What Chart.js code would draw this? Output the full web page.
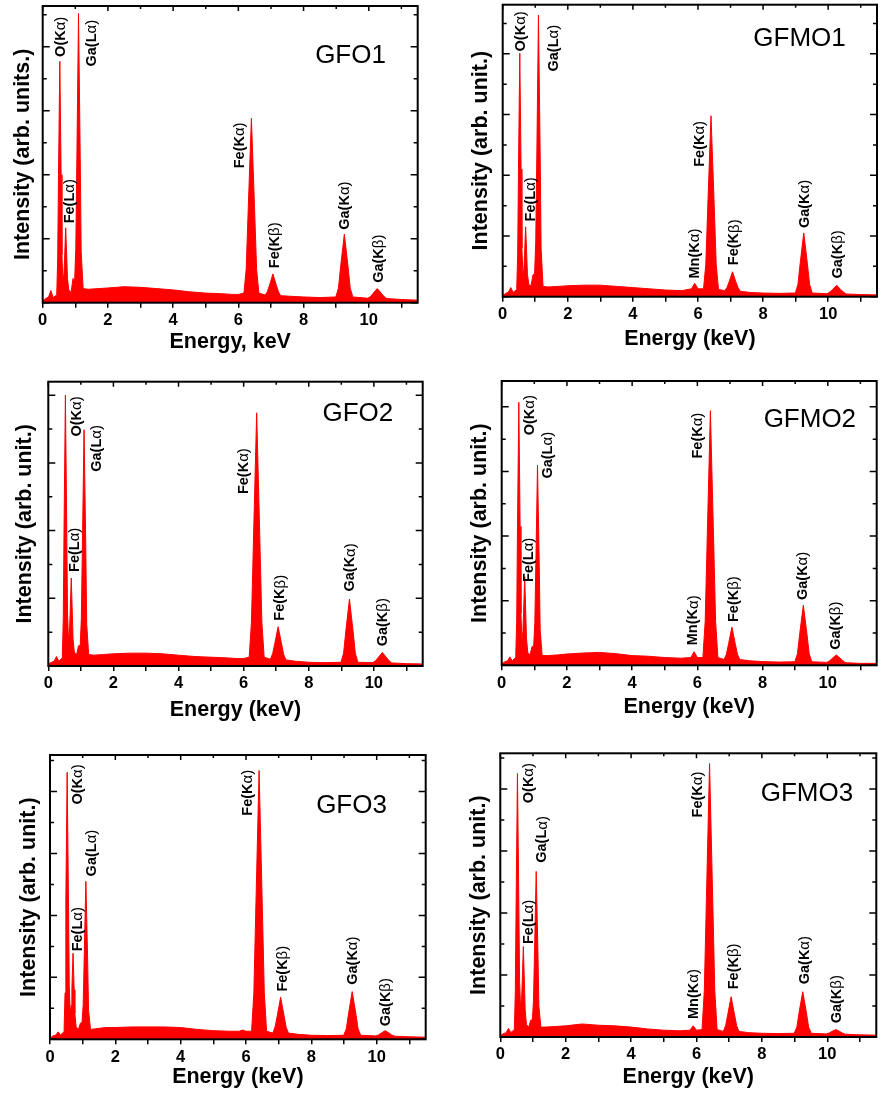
<!DOCTYPE html>
<html>
<head>
<meta charset="utf-8">
<script src="https://cdn.jsdelivr.net/npm/chart.js@4.4.1/dist/chart.umd.min.js"></script>
<style>
  html, body { margin: 0; padding: 0; background: #fff; }
  body { width: 882px; height: 1099px; position: relative; overflow: hidden; }
  canvas { position: absolute; }
</style>
</head>
<body>
<canvas id="c1" width="441" height="365" style="left:0;top:0"></canvas>
<canvas id="c2" width="441" height="365" style="left:441px;top:0"></canvas>
<canvas id="c3" width="441" height="370" style="left:0;top:365px"></canvas>
<canvas id="c4" width="441" height="370" style="left:441px;top:365px"></canvas>
<canvas id="c5" width="441" height="364" style="left:0;top:735px"></canvas>
<canvas id="c6" width="441" height="364" style="left:441px;top:735px"></canvas>
<script>
// energy grid (keV) shared by all six spectra
const energyKeV = [0, 0.08, 0.18, 0.25, 0.32, 0.43, 0.46, 0.485, 0.525, 0.565, 0.59, 0.62, 0.65, 0.67, 0.705, 0.74, 0.76, 0.8, 0.87, 0.93, 0.98, 1.015, 1.05, 1.098, 1.15, 1.18, 1.24, 1.4, 1.7, 2.0, 2.5, 3.0, 3.5, 4.0, 4.5, 5.0, 5.5, 5.8, 5.9, 6.0, 6.17, 6.24, 6.305, 6.4, 6.495, 6.56, 6.63, 6.82, 6.89, 6.96, 7.06, 7.16, 7.23, 7.3, 7.6, 8.0, 8.5, 8.99, 9.07, 9.14, 9.25, 9.36, 9.43, 9.51, 9.97, 10.06, 10.14, 10.26, 10.38, 10.46, 10.55, 11.0, 11.5];

// intensities (arb. units)
const gfo1 = [0.03, 0.06, 0.09, 0.19, 0.08, 0.12, 0.7, 2.0, 3.77, 2.0, 0.75, 0.33, 0.45, 0.68, 1.17, 0.68, 0.38, 0.2, 0.16, 0.38, 0.35, 0.85, 2.35, 4.52, 2.3, 0.8, 0.22, 0.21, 0.22, 0.23, 0.25, 0.24, 0.22, 0.2, 0.17, 0.15, 0.14, 0.13, 0.13, 0.13, 0.15, 0.52, 1.5, 2.88, 1.5, 0.52, 0.15, 0.12, 0.17, 0.28, 0.45, 0.28, 0.17, 0.11, 0.1, 0.09, 0.08, 0.09, 0.23, 0.58, 1.07, 0.58, 0.23, 0.09, 0.07, 0.1, 0.15, 0.22, 0.15, 0.1, 0.065, 0.05, 0.04];
const gfmo1 = [0.02, 0.05, 0.08, 0.15, 0.07, 0.12, 0.7, 2.1, 4.01, 2.1, 0.8, 0.38, 0.45, 0.68, 1.15, 0.66, 0.38, 0.2, 0.18, 0.36, 0.38, 0.9, 2.4, 4.64, 2.4, 0.8, 0.17, 0.16, 0.17, 0.18, 0.19, 0.19, 0.17, 0.15, 0.13, 0.11, 0.1, 0.13, 0.22, 0.13, 0.13, 0.53, 1.55, 2.98, 1.55, 0.53, 0.12, 0.1, 0.15, 0.25, 0.41, 0.25, 0.15, 0.09, 0.07, 0.06, 0.055, 0.06, 0.2, 0.55, 1.05, 0.55, 0.2, 0.06, 0.05, 0.08, 0.12, 0.19, 0.12, 0.08, 0.045, 0.035, 0.03];
const gfo2 = [0.03, 0.05, 0.07, 0.14, 0.07, 0.12, 0.7, 2.1, 4.0, 2.1, 0.8, 0.38, 0.5, 0.76, 1.3, 0.74, 0.4, 0.2, 0.17, 0.3, 0.3, 0.7, 1.85, 3.49, 1.8, 0.62, 0.17, 0.16, 0.17, 0.18, 0.19, 0.19, 0.18, 0.16, 0.14, 0.13, 0.12, 0.11, 0.11, 0.11, 0.13, 0.65, 1.92, 3.74, 1.92, 0.65, 0.13, 0.1, 0.18, 0.34, 0.58, 0.34, 0.17, 0.09, 0.07, 0.055, 0.05, 0.055, 0.19, 0.52, 0.99, 0.52, 0.19, 0.055, 0.05, 0.08, 0.13, 0.2, 0.13, 0.08, 0.045, 0.035, 0.03];
const gfmo2 = [0.02, 0.05, 0.07, 0.13, 0.07, 0.12, 0.7, 2.15, 4.07, 2.15, 0.8, 0.39, 0.52, 0.8, 1.37, 0.78, 0.42, 0.2, 0.16, 0.29, 0.3, 0.65, 1.65, 3.1, 1.6, 0.55, 0.15, 0.15, 0.16, 0.175, 0.19, 0.2, 0.18, 0.15, 0.14, 0.12, 0.11, 0.12, 0.21, 0.12, 0.12, 0.68, 2.02, 3.94, 2.02, 0.68, 0.12, 0.09, 0.17, 0.34, 0.59, 0.34, 0.17, 0.09, 0.07, 0.057, 0.05, 0.055, 0.18, 0.49, 0.93, 0.49, 0.18, 0.055, 0.045, 0.07, 0.11, 0.16, 0.11, 0.07, 0.04, 0.03, 0.03];
const gfo3 = [0.02, 0.05, 0.07, 0.12, 0.07, 0.12, 0.75, 2.25, 4.31, 2.25, 0.85, 0.42, 0.55, 0.82, 1.39, 0.8, 0.42, 0.2, 0.16, 0.26, 0.27, 0.55, 1.38, 2.55, 1.35, 0.47, 0.16, 0.17, 0.19, 0.19, 0.2, 0.2, 0.2, 0.19, 0.16, 0.14, 0.13, 0.13, 0.15, 0.13, 0.13, 0.75, 2.22, 4.34, 2.22, 0.75, 0.13, 0.1, 0.2, 0.39, 0.68, 0.39, 0.19, 0.1, 0.08, 0.065, 0.06, 0.065, 0.17, 0.42, 0.77, 0.42, 0.17, 0.065, 0.055, 0.07, 0.1, 0.14, 0.1, 0.07, 0.05, 0.04, 0.035];
const gfmo3 = [0.02, 0.05, 0.07, 0.14, 0.07, 0.12, 0.75, 2.25, 4.25, 2.25, 0.9, 0.49, 0.6, 0.88, 1.46, 0.84, 0.44, 0.2, 0.16, 0.27, 0.28, 0.58, 1.45, 2.67, 1.4, 0.5, 0.16, 0.16, 0.17, 0.18, 0.21, 0.19, 0.18, 0.16, 0.13, 0.11, 0.1, 0.11, 0.18, 0.11, 0.12, 0.75, 2.25, 4.41, 2.25, 0.75, 0.12, 0.09, 0.18, 0.37, 0.65, 0.37, 0.18, 0.09, 0.07, 0.06, 0.055, 0.06, 0.16, 0.4, 0.73, 0.4, 0.16, 0.06, 0.05, 0.065, 0.09, 0.12, 0.09, 0.065, 0.045, 0.035, 0.03];

// axis ticks
const energyTicks = [0, 1, 2, 3, 4, 5, 6, 7, 8, 9, 10, 11];
const intensityTicks = [0, 0.5, 1, 1.5, 2, 2.5, 3, 3.5, 4, 4.5];

// peak names
const peaksGFO = ['O(Kα)', 'Fe(Lα)', 'Ga(Lα)', 'Fe(Kα)', 'Fe(Kβ)', 'Ga(Kα)', 'Ga(Kβ)'];
const peaksGFMO = ['O(Kα)', 'Fe(Lα)', 'Ga(Lα)', 'Mn(Kα)', 'Fe(Kα)', 'Fe(Kβ)', 'Ga(Kα)', 'Ga(Kβ)'];

const FONT = 'Liberation Sans, Arial, Helvetica, sans-serif';
Chart.defaults.font.family = FONT;
Chart.defaults.color = '#000';

// panel layout: canvas box, plot box (page px), label anchors in data units
const panels = [
  { id: 'c1', values: gfo1, cx: 0, cy: 0, cw: 441, ch: 365, l: 42.7, t: 6, r: 417.7, b: 302.7, yMax: 4.635,
    yTitle: 'Intensity (arb. units.)', xTitle: 'Energy, keV', yTitleX: 22.7, xTitleY: 342,
    name: 'GFO1', nameAt: [9.44, 3.86], peaks: peaksGFO,
    at: [[0.554, 3.84], [0.836, 1.24], [1.5, 3.69], [6.04, 2.1], [7.11, 0.54], [9.26, 1.14], [10.31, 0.31]] },
  { id: 'c2', values: gfmo1, cx: 441, cy: 0, cw: 441, ch: 365, l: 502.7, t: 4.7, r: 877, b: 296.7, yMax: 4.81,
    yTitle: 'Intensity (arb. unit.)', xTitle: 'Energy (keV)', yTitleX: 481, xTitleY: 339,
    name: 'GFMO1', nameAt: [9.12, 4.25], peaks: peaksGFMO,
    at: [[0.57, 4.04], [0.86, 1.24], [1.57, 3.71], [5.91, 0.3], [6.05, 2.14], [7.12, 0.52], [9.29, 1.13], [10.3, 0.3]] },
  { id: 'c3', values: gfo2, cx: 0, cy: 365, cw: 441, ch: 370, l: 48.3, t: 381.7, r: 422.7, b: 666, yMax: 4.2,
    yTitle: 'Intensity (arb. unit.)', xTitle: 'Energy (keV)', yTitleX: 25, xTitleY: 710,
    name: 'GFO2', nameAt: [9.51, 3.72], peaks: peaksGFO,
    at: [[0.87, 3.39], [0.82, 1.39], [1.5, 2.87], [6.0, 2.54], [7.13, 0.67], [9.28, 1.1], [10.29, 0.29]] },
  { id: 'c4', values: gfmo2, cx: 441, cy: 365, cw: 441, ch: 370, l: 501.7, t: 381, r: 876.7, b: 665.3, yMax: 4.4,
    yTitle: 'Intensity (arb. unit.)', xTitle: 'Energy (keV)', yTitleX: 480, xTitleY: 706.7,
    name: 'GFMO2', nameAt: [9.45, 3.8], peaks: peaksGFMO,
    at: [[0.875, 3.56], [0.83, 1.29], [1.41, 2.89], [5.88, 0.31], [6.03, 3.2], [7.13, 0.67], [9.24, 1.01], [10.26, 0.24]] },
  { id: 'c5', values: gfo3, cx: 0, cy: 735, cw: 441, ch: 364, l: 50, t: 755, r: 425.7, b: 1039.3, yMax: 4.59,
    yTitle: 'Intensity (arb. unit.)', xTitle: 'Energy (keV)', yTitleX: 29.3, xTitleY: 1076.7,
    name: 'GFO3', nameAt: [9.23, 3.77], peaks: peaksGFO,
    at: [[0.865, 3.79], [0.865, 1.42], [1.29, 2.63], [6.06, 3.61], [7.13, 0.77], [9.26, 0.88], [10.27, 0.21]] },
  { id: 'c6', values: gfmo3, cx: 441, cy: 735, cw: 441, ch: 364, l: 500.3, t: 753.3, r: 876.3, b: 1037, yMax: 4.575,
    yTitle: 'Intensity (arb. unit.)', xTitle: 'Energy (keV)', yTitleX: 478.7, xTitleY: 1077.3,
    name: 'GFMO3', nameAt: [9.38, 3.92], peaks: peaksGFMO,
    at: [[0.886, 3.77], [0.87, 1.5], [1.29, 2.81], [5.92, 0.29], [6.05, 3.54], [7.14, 0.77], [9.31, 0.85], [10.3, 0.22]] }
];

// black frame with inward ticks on left, right and top
const frameTicks = {
  id: 'frameTicks',
  afterDatasetsDraw(chart) {
    const { ctx, chartArea: a, scales: { x, y } } = chart;
    ctx.save();
    ctx.strokeStyle = '#000';
    ctx.lineWidth = 1.5;
    ctx.beginPath();
    y.ticks.forEach(t => {
      const py = y.getPixelForValue(t.value);
      const len = Number.isInteger(t.value) ? 7 : 4;
      ctx.moveTo(a.left, py); ctx.lineTo(a.left + len, py);
      ctx.moveTo(a.right, py); ctx.lineTo(a.right - len, py);
    });
    x.ticks.forEach(t => {
      const px = x.getPixelForValue(t.value);
      const len = t.value % 2 === 0 ? 5 : 3;
      ctx.moveTo(px, a.top); ctx.lineTo(px, a.top + len);
    });
    ctx.stroke();
    ctx.lineWidth = 2;
    ctx.strokeRect(a.left, a.top, a.right - a.left, a.bottom - a.top);
    ctx.restore();
  }
};

// rotated peak names + sample name
const peakLabels = {
  id: 'peakLabels',
  afterDraw(chart, args, opts) {
    const { ctx, scales: { x, y } } = chart;
    ctx.save();
    ctx.fillStyle = '#000';
    ctx.textBaseline = 'middle';
    opts.peaks.forEach((txt, i) => {
      const [e, v] = opts.at[i];
      const k = txt.search(/[αβ]/);
      const head = txt.slice(0, k), tail = txt.slice(k);
      ctx.save();
      ctx.translate(x.getPixelForValue(e), y.getPixelForValue(v));
      ctx.rotate(-Math.PI / 2);
      ctx.textAlign = 'left';
      ctx.font = 'bold 14.5px ' + FONT;
      ctx.fillText(head, 0, 0);
      const w = ctx.measureText(head).width;
      ctx.font = '15px ' + FONT;
      ctx.fillText(tail, w, 0);
      ctx.restore();
    });
    ctx.font = '26px ' + FONT;
    ctx.textAlign = 'center';
    ctx.fillText(opts.name, x.getPixelForValue(opts.nameAt[0]), y.getPixelForValue(opts.nameAt[1]));
    ctx.restore();
  }
};

panels.forEach(p => {
  const yW = p.l - p.cx;
  const xH = p.cy + p.ch - p.b;
  new Chart(document.getElementById(p.id), {
    type: 'line',
    data: {
      datasets: [{
        data: energyKeV.map((e, i) => ({ x: e, y: p.values[i] })),
        borderColor: '#ff0000',
        backgroundColor: '#ff0000',
        borderWidth: 1,
        pointRadius: 0,
        fill: 'origin',
        tension: 0
      }]
    },
    options: {
      responsive: false,
      animation: false,
      events: [],
      layout: { padding: { left: 0, top: p.t - p.cy, right: p.cx + p.cw - p.r, bottom: 0 } },
      plugins: {
        legend: { display: false },
        tooltip: { enabled: false },
        peakLabels: { peaks: p.peaks, at: p.at, name: p.name, nameAt: p.nameAt }
      },
      scales: {
        x: {
          type: 'linear', min: 0, max: 11.5,
          afterBuildTicks: s => { s.ticks = energyTicks.map(v => ({ value: v })); },
          afterFit: s => { s.height = xH; },
          border: { display: false },
          grid: { drawOnChartArea: false, drawTicks: true, tickLength: 5, color: '#000', lineWidth: 1.5 },
          ticks: {
            autoSkip: false, maxRotation: 0, padding: 3,
            font: { size: 16.5, weight: 'bold' },
            callback: v => (v % 2 === 0 ? String(v) : '')
          },
          title: {
            display: true, text: p.xTitle,
            font: { size: 21.5, weight: 'bold' },
            padding: { top: 0, bottom: p.cy + p.ch - p.xTitleY - 12.9 }
          }
        },
        y: {
          type: 'linear', min: 0, max: p.yMax,
          afterBuildTicks: s => { s.ticks = intensityTicks.filter(v => v <= p.yMax).map(v => ({ value: v })); },
          afterFit: s => { s.width = yW; },
          border: { display: false },
          grid: { display: false },
          ticks: { display: false },
          title: {
            display: true, text: p.yTitle,
            font: { size: 21.5, weight: 'bold' },
            padding: { top: p.yTitleX - p.cx - 12.9, bottom: 0 }
          }
        }
      }
    },
    plugins: [frameTicks, peakLabels]
  });
});
</script>
</body>
</html>
